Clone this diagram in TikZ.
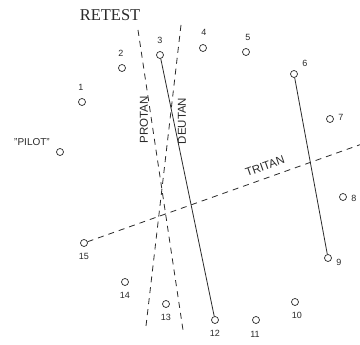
\documentclass[tikz,border=0pt]{standalone}
\usepackage{fontspec}
\setmainfont{Liberation Serif}
\setsansfont{Liberation Sans}
\definecolor{ink}{HTML}{2A2A2A}
\begin{document}
\begin{tikzpicture}[x=1pt,y=-1pt,
  pt/.style={circle,draw=ink,inner sep=0pt,minimum size=7pt,line width=0.7pt},
  num/.style={font=\sffamily\fontsize{9}{9}\selectfont,inner sep=0pt,text=ink},
  axislbl/.style={font=\sffamily\fontsize{11.5}{11.5}\selectfont,inner sep=0pt,text=ink},
  solidln/.style={draw=ink,line width=0.8pt},
  dashln/.style={draw=ink,line width=0.8pt,dash pattern=on 6pt off 5pt}]
\useasboundingbox (0,0) rectangle (360,345);
\fill[white] (0,0) rectangle (360,345);
% title
\node[font=\fontsize{16.5}{16.5}\selectfont,text=ink,inner sep=0pt] (title) at (110,15) {RETEST};
% caps
\node[pt] (p0) at (60,152) {};
\node[pt] (p1) at (82,102) {};
\node[pt] (p2) at (122,68) {};
\node[pt] (p3) at (160,55) {};
\node[pt] (p4) at (203,48) {};
\node[pt] (p5) at (246,52) {};
\node[pt] (p6) at (294,74) {};
\node[pt] (p7) at (330,119) {};
\node[pt] (p8) at (343,197) {};
\node[pt] (p9) at (328,258) {};
\node[pt] (p10) at (295,302) {};
\node[pt] (p11) at (256,320) {};
\node[pt] (p12) at (215,320) {};
\node[pt] (p13) at (166,304) {};
\node[pt] (p14) at (125,282) {};
\node[pt] (p15) at (84,243) {};
% labels
\node[font=\sffamily\fontsize{10}{10}\selectfont,inner sep=0pt,text=ink] (l0) at (32,142) {"PILOT"};
\node[num] (l1) at (81,87) {1};
\node[num] (l2) at (121,53) {2};
\node[num] (l3) at (160,40) {3};
\node[num] (l4) at (204,32) {4};
\node[num] (l5) at (248,37) {5};
\node[num] (l6) at (305,63) {6};
\node[num] (l7) at (341,117) {7};
\node[num] (l8) at (354,198) {8};
\node[num] (l9) at (339,262) {9};
\node[num] (l10) at (297,315) {10};
\node[num] (l11) at (255,334) {11};
\node[num] (l12) at (215,333) {12};
\node[num] (l13) at (166,317) {13};
\node[num] (l14) at (125,295) {14};
\node[num] (l15) at (84,256) {15};
% solid connectors
\draw[solidln] (p3) -- (p12);
\draw[solidln] (p6) -- (p9);
% dashed axes
\coordinate (pa) at (138,30);
\coordinate (pb) at (183,330);
\coordinate (da) at (181,25);
\coordinate (db) at (146,326);
\coordinate (te) at (362,144);
\draw[dashln] (pa) -- (pb);
\draw[dashln] (da) -- (db);
\draw[dashln] (p15) -- (te);
% axis labels
\node[axislbl,rotate=90] (lprot) at (144,120) {PROTAN};
\node[axislbl,rotate=90] (ldeut) at (182,121) {DEUTAN};
\node[axislbl,rotate=19.5] (ltrit) at (265,166) {TRITAN};
\end{tikzpicture}
\end{document}
